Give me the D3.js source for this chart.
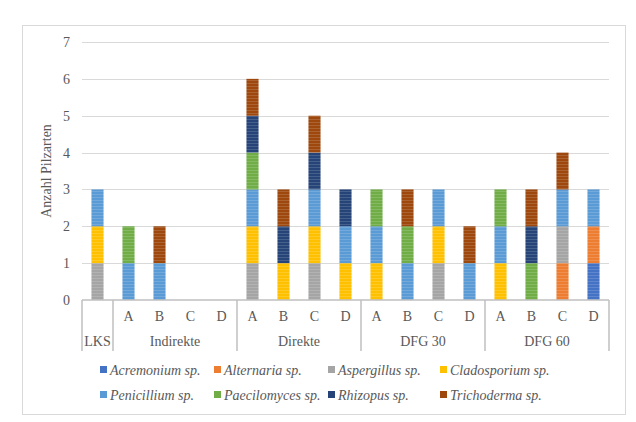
<!DOCTYPE html>
<html lang="en">
<head>
<meta charset="utf-8">
<title>Anzahl Pilzarten</title>
<script src="https://d3js.org/d3.v7.min.js"></script>
<style>
body { margin: 0; background: #fff; }
text { font-family: 'Liberation Serif', 'Times New Roman', serif; }
</style>
</head>
<body>
<script>

// categories: group + sub label
var groups = ["LKS", "Indirekte", "Direkte", "DFG 30", "DFG 60"];
var subLabels = ["", "A", "B", "C", "D", "A", "B", "C", "D", "A", "B", "C", "D", "A", "B", "C", "D"];
var groupOf = ["LKS", "Indirekte", "Indirekte", "Indirekte", "Indirekte",
    "Direkte", "Direkte", "Direkte", "Direkte",
    "DFG 30", "DFG 30", "DFG 30", "DFG 30",
    "DFG 60", "DFG 60", "DFG 60", "DFG 60"];

var species = ["Acremonium sp.", "Alternaria sp.", "Aspergillus sp.", "Cladosporium sp.",
    "Penicillium sp.", "Paecilomyces sp.", "Rhizopus sp.", "Trichoderma sp."];
var colors = ["#4472c4", "#ed7d31", "#a5a5a5", "#ffc000", "#5b9bd5", "#70ad47", "#264478", "#9e480e"];

// one array per species, one value per category
var acremonium   = [0, 0,0,0,0, 0,0,0,0, 0,0,0,0, 0,0,0,1];
var alternaria   = [0, 0,0,0,0, 0,0,0,0, 0,0,0,0, 0,0,1,1];
var aspergillus  = [1, 0,0,0,0, 1,0,1,0, 0,0,1,0, 0,0,1,0];
var cladosporium = [1, 0,0,0,0, 1,1,1,1, 1,0,1,0, 1,0,0,0];
var penicillium  = [1, 1,1,0,0, 1,0,1,1, 1,1,1,1, 1,0,1,1];
var paecilomyces = [0, 1,0,0,0, 1,0,0,0, 1,1,0,0, 1,1,0,0];
var rhizopus     = [0, 0,0,0,0, 1,1,1,1, 0,0,0,0, 0,1,0,0];
var trichoderma  = [0, 0,1,0,0, 1,1,1,0, 0,1,0,1, 0,1,1,0];

var yTicks = [0, 1, 2, 3, 4, 5, 6, 7];

var series = [acremonium, alternaria, aspergillus, cladosporium, penicillium, paecilomyces, rhizopus, trichoderma];

var FONT = "'Liberation Serif', 'Times New Roman', serif";
var width = 636, height = 422;
var margin = {left: 82, right: 27, top: 42, bottom: 122};

var svg = d3.select("body").append("svg")
    .attr("width", width)
    .attr("height", height)
    .style("font-family", FONT);

// outer chart border
svg.append("rect")
    .attr("x", 22.5).attr("y", 25.5)
    .attr("width", 603).attr("height", 389)
    .attr("fill", "none").attr("stroke", "#d9d9d9");

// striped patterns like the original fill
var defs = svg.append("defs");
colors.forEach(function(c, i) {
    var p = defs.append("pattern")
        .attr("id", "pat" + i)
        .attr("patternUnits", "userSpaceOnUse")
        .attr("width", 6).attr("height", 3);
    p.append("rect").attr("width", 6).attr("height", 3).attr("fill", c);
    p.append("rect").attr("y", 2).attr("width", 6).attr("height", 1)
        .attr("fill", "#fff").attr("opacity", 0.15);
});

var idx = d3.range(subLabels.length);

var x = d3.scaleBand()
    .domain(idx)
    .range([margin.left, width - margin.right])
    .paddingInner(0.61)
    .paddingOuter(0.305);

var y = d3.scaleLinear()
    .domain([0, 7])
    .range([height - margin.bottom, margin.top]);

// gridlines
svg.append("g")
    .selectAll("line")
    .data(yTicks.slice(1))
    .enter().append("line")
    .attr("x1", margin.left).attr("x2", width - margin.right)
    .attr("y1", function(d) { return Math.round(y(d)) + 0.5; })
    .attr("y2", function(d) { return Math.round(y(d)) + 0.5; })
    .attr("stroke", "#d9d9d9");

// y axis labels
var yAxis = d3.axisLeft(y).tickValues(yTicks).tickFormat(d3.format("d")).tickSize(0).tickPadding(12);
svg.append("g")
    .attr("transform", "translate(" + margin.left + ",0)")
    .call(yAxis)
    .attr("font-family", null)
    .call(function(g) { g.select(".domain").remove(); })
    .selectAll("text")
    .style("font-family", FONT)
    .style("font-size", "14px")
    .attr("fill", "#595959");

// stacked data
var table = idx.map(function(i) {
    var row = {i: i};
    species.forEach(function(s, k) { row[s] = series[k][i]; });
    return row;
});
var stack = d3.stack().keys(species)(table);

svg.append("g")
    .selectAll("g")
    .data(stack)
    .enter().append("g")
    .attr("fill", function(d, k) { return "url(#pat" + k + ")"; })
    .selectAll("rect")
    .data(function(d) { return d.filter(function(v) { return v[1] > v[0]; }); })
    .enter().append("rect")
    .attr("x", function(d) { return x(d.data.i); })
    .attr("width", x.bandwidth())
    .attr("y", function(d) { return y(d[1]); })
    .attr("height", function(d) { return y(d[0]) - y(d[1]); });

// multi-level category axis
var axisY = y(0);
var step = x.step();
var left = margin.left, right = width - margin.right;
var axisG = svg.append("g").attr("stroke", "#bfbfbf").attr("stroke-width", 1.5);

axisG.append("line")
    .attr("x1", left).attr("x2", right)
    .attr("y1", axisY).attr("y2", axisY);

// group boundaries
var bounds = [0];
groups.forEach(function(gname) {
    var n = groupOf.filter(function(g) { return g === gname; }).length;
    bounds.push(bounds[bounds.length - 1] + n);
});
axisG.selectAll("line.sep")
    .data(bounds)
    .enter().append("line")
    .attr("class", "sep")
    .attr("x1", function(b) { return left + b * step; })
    .attr("x2", function(b) { return left + b * step; })
    .attr("y1", axisY).attr("y2", axisY + 51);

svg.append("g")
    .selectAll("text")
    .data(idx)
    .enter().append("text")
    .attr("x", function(i) { return x(i) + x.bandwidth() / 2; })
    .attr("y", axisY + 21)
    .attr("text-anchor", "middle")
    .attr("fill", "#595959")
    .style("font-family", FONT)
    .style("font-size", "14px")
    .text(function(i) { return subLabels[i]; });

svg.append("g")
    .selectAll("text")
    .data(groups)
    .enter().append("text")
    .attr("x", function(g, k) { return left + (bounds[k] + bounds[k + 1]) / 2 * step; })
    .attr("y", axisY + 46)
    .attr("text-anchor", "middle")
    .attr("fill", "#595959")
    .style("font-family", FONT)
    .style("font-size", "14px")
    .text(function(g) { return g; });

// y axis title
svg.append("text")
    .attr("transform", "translate(51," + y(3.5) + ") rotate(-90)")
    .attr("text-anchor", "middle")
    .attr("fill", "#595959")
    .style("font-family", FONT)
    .style("font-size", "14px")
    .text("Anzahl Pilzarten");

// legend
var legX = [103, 217, 331, 443];
var legY = [370, 395];
var legend = svg.append("g")
    .selectAll("g")
    .data(species)
    .enter().append("g")
    .attr("transform", function(d, k) {
        return "translate(" + legX[k % 4] + "," + legY[Math.floor(k / 4)] + ")";
    });
legend.append("rect")
    .attr("x", -3).attr("y", -4)
    .attr("width", 7).attr("height", 7)
    .attr("fill", function(d, k) { return colors[k]; });
legend.append("text")
    .attr("x", 7).attr("y", 4.5)
    .attr("fill", "#595959")
    .style("font-family", FONT)
    .style("font-size", "14px")
    .style("font-style", "italic")
    .text(function(d) { return d; });

</script>
</body>
</html>
